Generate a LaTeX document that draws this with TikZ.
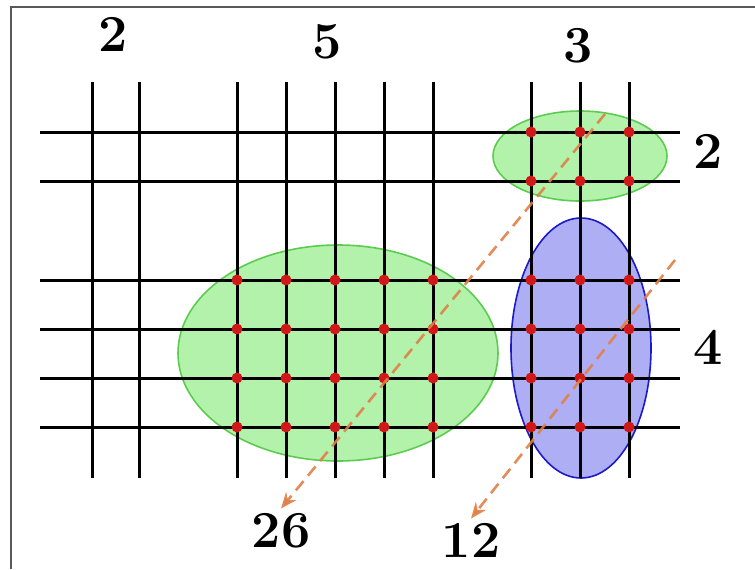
\documentclass[tikz,border=0pt]{standalone}
\usepackage{xcolor}
\definecolor{blobgreen}{HTML}{B2F2AA}
\definecolor{rimgreen}{HTML}{5CCC50}
\definecolor{blobblue}{HTML}{AEAEF4}
\definecolor{rimblue}{HTML}{1A1AC8}
\definecolor{dotred}{HTML}{D01818}
\definecolor{flow}{HTML}{E08048}
\usetikzlibrary{arrows.meta, shapes.geometric}

\begin{document}
\begin{tikzpicture}[x=0.5pt, y=-0.5pt, >={Stealth[length=8pt, width=6.5pt]},
  gridline/.style={line width=1.5pt, black},
  blob/.style={ellipse, draw=rimgreen, fill=blobgreen, line width=0.8pt, inner sep=0pt},
  vtx/.style={circle, fill=dotred, inner sep=0pt, minimum size=5.5pt},
  count/.style={font=\fontsize{26}{30}\selectfont\bfseries, anchor=base, inner sep=2pt},
  flowline/.style={->, flow, opacity=0.9, line width=1.3pt, dash pattern=on 6pt off 3.5pt}]

  \useasboundingbox (0,0) rectangle (755,569);
  \draw[gray!70!black, line width=1pt] (11,569) -- (11,6.5) -- (755,6.5);

  % Bereiche
  \node[blob, minimum width=160pt, minimum height=108pt] (bigblob) at (338,353) {};
  \node[blob, minimum width=87pt, minimum height=45pt] (smallblob) at (580,156) {};
  \node[blob, draw=rimblue, fill=blobblue, minimum width=70pt, minimum height=130pt] (blueblob) at (581,348) {};

  % Gitter
  \foreach \x in {92,139,237,286,335,384,433,531,580,629}
    \draw[gridline] (\x,82) -- (\x,478);
  \foreach \y in {132,181,280,329,378,427}
    \draw[gridline] (40,\y) -- (680,\y);

  % Knoten
  \foreach \x in {237,286,335,384,433}
    \foreach \y in {280,329,378,427}
      \node[vtx] (v-\x-\y) at (\x,\y) {};
  \foreach \x in {531,580,629}
    \foreach \y in {132,181,280,329,378,427}
      \node[vtx] (w-\x-\y) at (\x,\y) {};

  % Zahlen
  \node[count] (colA) at (113,51) {2};
  \node[count] (colB) at (327,58) {5};
  \node[count] (colC) at (578,62) {3};
  \node[count] (rowA) at (708,168) {2};
  \node[count] (rowB) at (708,364) {4};
  \node[count] (n26) at (281,547) {26};
  \node[count] (n12) at (471,557) {12};

  % Pfeile
  \coordinate (startA) at (605,114);
  \coordinate (startB) at (675,260);
  \draw[flowline] (startA) -- (n26.north);
  \draw[flowline] (startB) -- (n12.north);

\end{tikzpicture}
\end{document}
